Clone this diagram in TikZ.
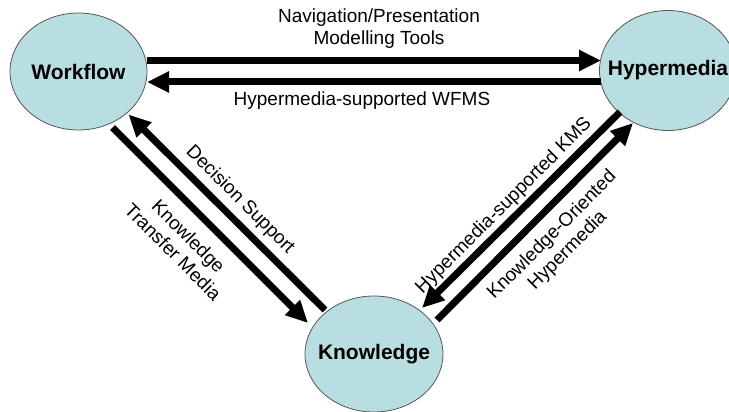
\documentclass[tikz,border=0pt]{standalone}
\usepackage{fontspec}
\setmainfont{Liberation Sans}
\usetikzlibrary{arrows.meta,shapes.geometric,calc}
\definecolor{nodefill}{RGB}{184,222,226}
\definecolor{nodeline}{RGB}{85,85,85}
\begin{document}
\begin{tikzpicture}[x=1pt,y=-1pt,
  concept/.style={ellipse, draw=nodeline, line width=0.8pt, fill=nodefill, inner sep=0pt},
  conceptname/.style={inner sep=0pt, font=\fontsize{21}{24}\selectfont\bfseries},
  flow/.style={line width=7pt, -{Triangle[length=22pt,width=20pt]}},
  lbl/.style={font=\fontsize{19}{22}\selectfont, align=center, inner sep=0pt}]
\fill[white] (0,0) rectangle (729,412);
\useasboundingbox (0,0) rectangle (729,412);
\node[concept, minimum width=137pt, minimum height=117pt] (W) at (78.5,71.5) {};
\node[concept, minimum width=137pt, minimum height=120pt] (H) at (668,70.5) {};
\node[concept, minimum width=138pt, minimum height=116pt] (K) at (374,354) {};
\node[conceptname] (Wt) at (W) {Workflow};
\node[conceptname] (Ht) at (H) {Hypermedia};
\node[conceptname] (Kt) at (K) {Knowledge};
% horizontal connectors
\draw[flow] ($(W)+(68.5,-11)$) -- ($(H)+(-67,-10)$);
\draw[flow] ($(H)+(-67,11.5)$) -- ($(W)+(68.5,10.5)$);
% left diagonal connectors
\draw[flow] ($(W)+(34,56)$) -- ($(K)+(-66,-31)$);
\draw[flow] ($(K)+(-49,-44)$) -- ($(W)+(50,43)$);
% right diagonal connectors
\draw[flow] ($(H)+(-48,41.5)$) -- ($(K)+(48,-46)$);
\draw[flow] ($(K)+(63,-34)$) -- ($(H)+(-35,52.5)$);
% labels
\node[lbl] (navlbl) at (379,29) {Navigation/Presentation\\Modelling Tools};
\node[lbl] (wfmslbl) at (362,101) {Hypermedia-supported WFMS};
\node[lbl, rotate=-45] (dslbl) at (240,200) {Decision Support};
\node[lbl, rotate=-45] (ktmlbl) at (181,244) {Knowledge\\Transfer Media};
\node[lbl, rotate=45] (kmslbl) at (504,206) {Hypermedia-supported KMS};
\node[lbl, rotate=45] (kohlbl) at (560,243) {Knowledge-Oriented\\Hypermedia};
\end{tikzpicture}
\end{document}
